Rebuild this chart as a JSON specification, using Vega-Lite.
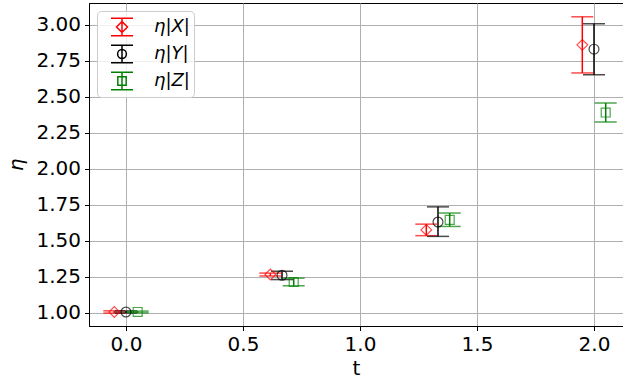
{
  "$schema": "https://vega.github.io/schema/vega-lite/v6.json",
  "width": 534,
  "height": 323,
  "autosize": {"type": "none"},
  "padding": {"left": 89, "top": 3, "right": 0, "bottom": 60},
  "background": "white",
  "config": {
    "font": "DejaVu Sans",
    "view": {"stroke": "#000000", "strokeWidth": 1},
    "axis": {
      "labelFont": "DejaVu Sans", "labelFontSize": 20, "labelColor": "#000000",
      "titleFont": "DejaVu Sans", "titleFontSize": 20, "titleFontWeight": "normal", "titleColor": "#000000",
      "domainColor": "#000000", "tickColor": "#000000", "tickSize": 4.5, "labelPadding": 4,
      "gridColor": "#b0b0b0", "gridWidth": 1
    },
    "legend": {
      "orient": "top-left", "offset": 8, "padding": 4,
      "symbolOffset": 9, "symbolSize": 484, "symbolStrokeWidth": 1.5, "symbolOpacity": 1,
      "labelFont": "DejaVu Sans", "labelFontSize": 18, "labelFontStyle": "italic", "labelColor": "#000000",
      "labelOffset": 20, "rowPadding": 3,
      "strokeColor": "#cccccc", "fillColor": "rgba(255,255,255,0.8)", "cornerRadius": 4
    }
  },
  "data": {"values": [
    {"s": "η|X|", "t": -0.05, "eta": 1.005, "lo": 0.997, "hi": 1.013},
    {"s": "η|X|", "t": 0.6167, "eta": 1.265, "lo": 1.255, "hi": 1.275},
    {"s": "η|X|", "t": 1.2833, "eta": 1.575, "lo": 1.535, "hi": 1.615},
    {"s": "η|X|", "t": 1.95, "eta": 2.86, "lo": 2.665, "hi": 3.055},
    {"s": "η|Y|", "t": 0.0, "eta": 1.005, "lo": 0.998, "hi": 1.012},
    {"s": "η|Y|", "t": 0.6667, "eta": 1.26, "lo": 1.23, "hi": 1.288},
    {"s": "η|Y|", "t": 1.3333, "eta": 1.63, "lo": 1.53, "hi": 1.735},
    {"s": "η|Y|", "t": 2.0, "eta": 2.83, "lo": 2.652, "hi": 3.006},
    {"s": "η|Z|", "t": 0.05, "eta": 1.005, "lo": 0.999, "hi": 1.011},
    {"s": "η|Z|", "t": 0.7167, "eta": 1.213, "lo": 1.187, "hi": 1.24},
    {"s": "η|Z|", "t": 1.3833, "eta": 1.645, "lo": 1.599, "hi": 1.692},
    {"s": "η|Z|", "t": 2.05, "eta": 2.39, "lo": 2.324, "hi": 2.456}
  ]},
  "encoding": {
    "x": {"field": "t", "type": "quantitative",
      "scale": {"domain": [-0.1581, 2.1239], "nice": false, "zero": false},
      "axis": {"title": "t", "values": [0, 0.5, 1, 1.5, 2], "format": ".1f", "titlePadding": 4}}
  },
  "layer": [
    {
      "mark": {"type": "rule", "strokeWidth": 1.5},
      "encoding": {
        "y": {"field": "lo", "type": "quantitative",
          "scale": {"domain": [0.9076, 3.1507], "nice": false, "zero": false},
          "axis": {"title": "η", "titleFontStyle": "italic", "values": [1, 1.25, 1.5, 1.75, 2, 2.25, 2.5, 2.75, 3], "format": ".2f", "titlePadding": 9}},
        "y2": {"field": "hi"},
        "color": {"field": "s", "type": "nominal",
          "scale": {"domain": ["η|X|", "η|Y|", "η|Z|"], "range": ["#ff0000", "#000000", "#008000"]},
          "legend": null}
      }
    },
    {
      "mark": {"type": "tick", "orient": "horizontal", "size": 22, "thickness": 1.5},
      "encoding": {"y": {"field": "lo", "type": "quantitative"},
        "color": {"field": "s", "type": "nominal", "legend": null}}
    },
    {
      "mark": {"type": "tick", "orient": "horizontal", "size": 22, "thickness": 1.5},
      "encoding": {"y": {"field": "hi", "type": "quantitative"},
        "color": {"field": "s", "type": "nominal", "legend": null}}
    },
    {
      "mark": {"type": "point", "filled": false, "strokeWidth": 1.2},
      "encoding": {
        "y": {"field": "eta", "type": "quantitative"},
        "color": {"field": "s", "type": "nominal", "legend": null},
        "shape": {"field": "s", "type": "nominal",
          "scale": {"domain": ["η|X|", "η|Y|", "η|Z|"], "range": ["diamond", "circle", "square"]},
          "legend": null},
        "size": {"field": "s", "type": "nominal",
          "scale": {"domain": ["η|X|", "η|Y|", "η|Z|"], "range": [115, 80, 68]},
          "legend": null}
      }
    },
    {
      "mark": {"type": "point", "filled": false, "opacity": 0, "strokeWidth": 1.5},
      "encoding": {
        "y": {"field": "eta", "type": "quantitative"},
        "stroke": {"field": "s", "type": "nominal",
          "scale": {"domain": ["η|X|", "η|Y|", "η|Z|"], "range": ["#ff0000", "#000000", "#008000"]},
          "legend": {"title": null, "orient": "top-left"}},
        "shape": {"field": "s", "type": "nominal",
          "scale": {"domain": ["η|X|", "η|Y|", "η|Z|"], "range": [
            "M-1,-0.8L1,-0.8M-1,0.8L1,0.8M0,-0.8L0,0.8M0,-0.5L0.5,0L0,0.5L-0.5,0Z",
            "M-1,-0.8L1,-0.8M-1,0.8L1,0.8M0,-0.8L0,0.8M0.4,0A0.4,0.4,0,1,1,-0.4,0A0.4,0.4,0,1,1,0.4,0",
            "M-1,-0.8L1,-0.8M-1,0.8L1,0.8M0,-0.8L0,0.8M-0.38,-0.38L0.38,-0.38L0.38,0.38L-0.38,0.38Z"]},
          "legend": {"title": null, "orient": "top-left"}}
      }
    }
  ],
  "resolve": {
    "scale": {"shape": "independent", "size": "independent", "stroke": "independent"},
    "legend": {"shape": "independent", "stroke": "independent"}
  }
}
